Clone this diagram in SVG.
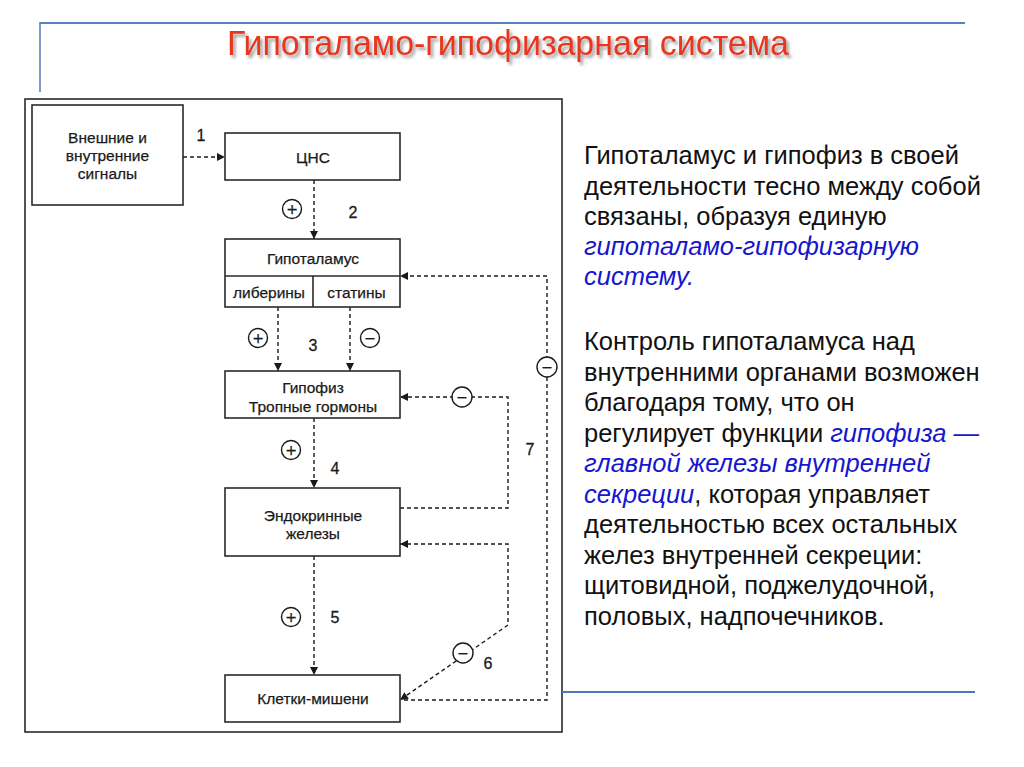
<svg xmlns="http://www.w3.org/2000/svg" width="1024" height="767" viewBox="0 0 1024 767">
<defs>
<filter id="sh" x="-5%" y="-30%" width="110%" height="160%">
<feDropShadow dx="2.5" dy="3" stdDeviation="1.6" flood-color="#777" flood-opacity="0.7"/>
</filter>
<marker id="ah" viewBox="0 0 10 10" refX="10" refY="5" markerWidth="9" markerHeight="8" markerUnits="userSpaceOnUse" orient="auto-start-reverse">
<path d="M0,0 L10,5 L0,10 z" fill="#1a1a1a"/>
</marker>
<style>
.box{fill:#fff;stroke:#2a2a2a;stroke-width:1.6}
.lbl{font-family:"Liberation Sans",Arial,sans-serif;font-size:15.5px;fill:#1a1a1a;stroke:#1a1a1a;stroke-width:0.25;text-anchor:middle}
.num{font-family:"Liberation Sans",Arial,sans-serif;font-size:16px;fill:#1a1a1a;stroke:#1a1a1a;stroke-width:0.3;text-anchor:middle}
.dash{fill:none;stroke:#1a1a1a;stroke-width:1.4;stroke-dasharray:4 3}
.sg{fill:#fff;stroke:#1a1a1a;stroke-width:1.4}
.sgt{font-family:"DejaVu Sans",sans-serif;font-size:14px;fill:#1a1a1a;stroke:#1a1a1a;stroke-width:0.3;text-anchor:middle}
.txt{font-family:"Liberation Sans",Arial,sans-serif;font-size:25.5px;fill:#111}
.it{font-style:italic;fill:#1616d0}
</style>
</defs>
<rect width="1024" height="767" fill="#fff"/>
<!-- title decor -->
<line x1="40" y1="23" x2="965" y2="23" stroke="#5a82c0" stroke-width="2.2"/>
<line x1="40" y1="22" x2="40" y2="92" stroke="#5a82c0" stroke-width="1.6"/>
<text x="508" y="55" font-family="'Liberation Sans',Arial,sans-serif" font-size="35" fill="#e8361c" text-anchor="middle" textLength="562" lengthAdjust="spacingAndGlyphs" filter="url(#sh)">Гипоталамо-гипофизарная система</text>
<!-- frame -->
<rect x="25" y="99" width="537" height="633" fill="none" stroke="#2a2a2a" stroke-width="1.6"/>
<line x1="562" y1="692" x2="975" y2="692" stroke="#4a78b8" stroke-width="2.2"/>

<g id="connectors">
<line class="dash" x1="183" y1="157" x2="225" y2="157" marker-end="url(#ah)"/>
<line class="dash" x1="314" y1="180" x2="314" y2="239" marker-end="url(#ah)"/>
<line class="dash" x1="278" y1="307" x2="278" y2="371" marker-end="url(#ah)"/>
<line class="dash" x1="350" y1="307" x2="350" y2="371" marker-end="url(#ah)"/>
<line class="dash" x1="314" y1="418" x2="314" y2="488" marker-end="url(#ah)"/>
<line class="dash" x1="314" y1="556" x2="314" y2="675" marker-end="url(#ah)"/>
<path class="dash" d="M400,508 H508 V397 H400" marker-end="url(#ah)"/>
<path class="dash" d="M400,544 H508 V625 L400,700" marker-start="url(#ah)" marker-end="url(#ah)"/>
<path class="dash" d="M404,700 H547 V276 H400" marker-end="url(#ah)"/>
<g id="signs">
<circle class="sg" cx="292" cy="209" r="9.5"/><text class="sgt" x="292" y="214">+</text>
<circle class="sg" cx="258" cy="338" r="9.5"/><text class="sgt" x="258" y="343">+</text>
<circle class="sg" cx="370" cy="338" r="9.5"/><text class="sgt" x="370" y="343">−</text>
<circle class="sg" cx="291" cy="450" r="9.5"/><text class="sgt" x="291" y="455">+</text>
<circle class="sg" cx="291" cy="617" r="9.5"/><text class="sgt" x="291" y="622">+</text>
<circle class="sg" cx="462" cy="397" r="10"/><text class="sgt" x="462" y="402">−</text>
<circle class="sg" cx="547" cy="367" r="10"/><text class="sgt" x="547" y="372">−</text>
<circle class="sg" cx="463" cy="653" r="10"/><text class="sgt" x="463" y="658">−</text>
</g>
<text class="num" x="201" y="141">1</text>
<text class="num" x="353" y="218">2</text>
<text class="num" x="313" y="351">3</text>
<text class="num" x="335" y="474">4</text>
<text class="num" x="335" y="623">5</text>
<text class="num" x="488" y="669">6</text>
<text class="num" x="530" y="455">7</text>
</g>

<g id="signals">
<rect class="box" x="32" y="105" width="151" height="100"/>
<text class="lbl" x="107.5" y="143">Внешние и</text>
<text class="lbl" x="107.5" y="161">внутренние</text>
<text class="lbl" x="107.5" y="178.5">сигналы</text>
</g>
<g id="cns">
<rect class="box" x="225" y="133" width="175" height="47"/>
<text class="lbl" x="313" y="162.5">ЦНС</text>
</g>
<g id="hypothalamus">
<rect class="box" x="225" y="239" width="175" height="68"/>
<line x1="225" y1="276" x2="400" y2="276" stroke="#2a2a2a" stroke-width="1.6"/>
<line x1="313" y1="276" x2="313" y2="307" stroke="#2a2a2a" stroke-width="1.6"/>
<text class="lbl" x="313" y="263.5">Гипоталамус</text>
<text class="lbl" x="269" y="297.5">либерины</text>
<text class="lbl" x="356.5" y="297.5">статины</text>
</g>
<g id="hypophysis">
<rect class="box" x="225" y="371" width="175" height="47"/>
<text class="lbl" x="313" y="392.5">Гипофиз</text>
<text class="lbl" x="313" y="411.5">Тропные гормоны</text>
</g>
<g id="endocrine">
<rect class="box" x="225" y="488" width="175" height="68"/>
<text class="lbl" x="313" y="521">Эндокринные</text>
<text class="lbl" x="313" y="538.5">железы</text>
</g>
<g id="targets">
<rect class="box" x="225" y="675" width="175" height="47"/>
<text class="lbl" x="313" y="703.5">Клетки-мишени</text>
</g>

<g id="description">
<text class="txt" x="584" y="164">Гипоталамус и гипофиз в своей</text>
<text class="txt" x="584" y="195">деятельности тесно между собой</text>
<text class="txt" x="584" y="225">связаны, образуя единую</text>
<text class="txt it" x="584" y="255">гипоталамо-гипофизарную</text>
<text class="txt it" x="584" y="285">систему.</text>
<text class="txt" x="584" y="350">Контроль гипоталамуса над</text>
<text class="txt" x="584" y="380.5">внутренними органами возможен</text>
<text class="txt" x="584" y="411">благодаря тому, что он</text>
<text class="txt" x="584" y="441.5">регулирует функции <tspan class="it">гипофиза —</tspan></text>
<text class="txt it" x="584" y="472">главной железы внутренней</text>
<text class="txt" x="584" y="502.5"><tspan class="it">секреции</tspan>, которая управляет</text>
<text class="txt" x="584" y="533">деятельностью всех остальных</text>
<text class="txt" x="584" y="563.5">желез внутренней секреции:</text>
<text class="txt" x="584" y="594">щитовидной, поджелудочной,</text>
<text class="txt" x="584" y="624.5">половых, надпочечников.</text>
</g>
</svg>
